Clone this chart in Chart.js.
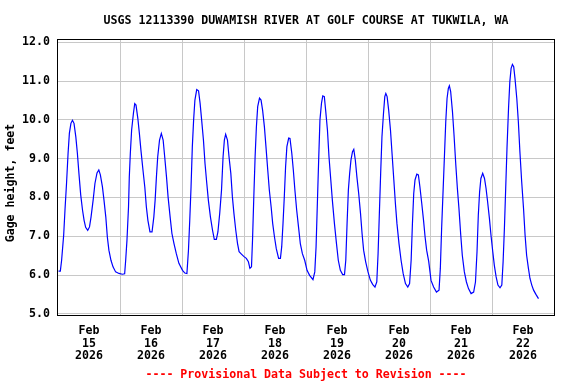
<!DOCTYPE html>
<html><head><meta charset="utf-8">
<script src="https://cdn.jsdelivr.net/npm/chart.js@4"></script>
<style>html,body{margin:0;padding:0;background:#fff}</style>
</head><body>
<canvas id="c" width="576" height="384" style="width:576px;height:384px;display:block"></canvas>
<script>
const titleText = "USGS 12113390 DUWAMISH RIVER AT GOLF COURSE AT TUKWILA, WA";
const footerText = "---- Provisional Data Subject to Revision ----";
const yAxisTitle = "Gage height, feet";
const monthLabel = "Feb";
const yearLabel = "2026";
const dayLabels = ["15","16","17","18","19","20","21","22"];
const yTicks = [5,6,7,8,9,10,11,12];

// hours since 2026-02-15 00:00
const hours = [0.2,0.9,1.4,2.2,2.7,3.3,3.9,4.4,5.0,5.6,6.2,6.9,7.5,8.1,8.8,9.5,10.1,10.7,11.5,12.2,12.8,13.6,14.3,15.1,15.8,16.4,17.2,17.8,18.5,19.1,19.7,20.5,21.3,22.3,23.6,24.9,25.8,26.2,26.7,27.3,27.6,28.0,28.5,29.2,29.7,30.2,30.9,31.5,32.1,32.9,33.6,34.2,34.8,35.6,36.4,37.1,37.6,38.1,38.6,39.3,40.0,40.7,41.3,42.0,42.6,43.4,44.1,44.9,45.8,46.8,48.2,49.1,49.9,50.5,51.0,51.5,52.0,52.5,53.0,53.7,54.4,55.0,55.6,56.3,56.9,57.6,58.2,59.0,59.8,60.5,61.3,61.9,62.6,63.3,63.9,64.4,64.9,65.6,66.2,66.9,67.5,68.1,68.8,69.5,70.1,71.0,71.9,72.9,73.7,74.3,74.9,75.3,75.8,76.3,76.8,77.3,78.0,78.6,79.2,79.9,80.5,81.2,81.8,82.5,83.1,83.8,84.5,85.4,86.1,86.6,87.1,87.6,88.1,88.6,89.3,89.8,90.5,91.1,91.7,92.4,93.1,93.8,94.6,95.5,96.4,97.4,98.7,99.4,99.9,100.4,100.9,101.4,102.0,102.5,103.1,103.6,104.3,104.9,105.6,106.2,107.0,107.8,108.5,109.3,110.2,110.9,111.4,111.9,112.4,112.9,113.4,114.0,114.5,115.1,115.7,116.4,117.1,117.7,118.3,119.1,120.0,120.9,121.8,122.7,123.4,123.9,124.4,124.9,125.4,126.0,126.5,126.9,127.4,128.0,128.7,129.3,130.0,130.6,131.2,132.0,132.8,133.6,134.5,135.4,136.1,136.7,137.2,137.7,138.2,138.9,139.5,140.1,140.8,141.5,142.1,142.7,143.5,144.4,145.4,146.5,147.5,148.0,148.5,149.0,149.6,150.1,150.6,151.1,151.5,152.0,152.7,153.3,154.0,154.6,155.2,155.9,156.5,157.3,158.1,158.9,159.9,160.9,161.6,162.2,162.7,163.2,163.7,164.4,165.1,165.7,166.3,167.0,167.6,168.3,168.9,169.6,170.3,171.1,171.8,172.3,172.8,173.3,173.8,174.4,174.9,175.4,175.9,176.4,176.9,177.6,178.2,178.8,179.5,180.2,180.8,181.4,182.1,182.7,183.4,184.1,185.0,186.0];

const gageHeight = [6.10,6.10,6.38,7.03,7.67,8.36,9.14,9.65,9.91,9.99,9.91,9.56,9.14,8.62,8.06,7.67,7.41,7.23,7.15,7.24,7.50,7.93,8.36,8.63,8.71,8.58,8.27,7.93,7.50,6.98,6.64,6.38,6.21,6.08,6.04,6.02,6.03,6.38,6.90,7.76,8.53,9.14,9.74,10.17,10.42,10.38,10.04,9.65,9.22,8.70,8.27,7.76,7.41,7.11,7.11,7.50,7.93,8.53,9.05,9.48,9.65,9.48,9.05,8.53,8.02,7.50,7.07,6.81,6.55,6.30,6.12,6.05,6.04,6.64,7.41,8.27,9.31,10.00,10.51,10.78,10.75,10.43,10.00,9.48,8.88,8.36,7.93,7.50,7.16,6.92,6.92,7.11,7.59,8.19,9.05,9.48,9.63,9.48,9.05,8.62,8.02,7.59,7.16,6.81,6.60,6.54,6.48,6.43,6.34,6.17,6.21,6.90,8.02,9.05,9.82,10.34,10.56,10.51,10.25,9.82,9.31,8.70,8.19,7.76,7.33,6.98,6.68,6.43,6.43,6.73,7.33,8.02,8.79,9.31,9.53,9.52,9.14,8.70,8.19,7.67,7.24,6.81,6.55,6.38,6.12,5.99,5.88,6.08,6.73,7.85,8.96,10.00,10.43,10.62,10.60,10.25,9.74,9.05,8.45,7.93,7.33,6.81,6.38,6.12,6.01,6.01,6.38,7.33,8.19,8.62,8.96,9.18,9.24,8.96,8.53,8.10,7.59,7.07,6.64,6.34,6.08,5.87,5.76,5.69,5.82,6.55,7.59,8.62,9.56,10.17,10.60,10.68,10.60,10.25,9.74,9.14,8.45,7.85,7.33,6.81,6.38,6.04,5.78,5.69,5.78,6.38,7.33,8.10,8.45,8.60,8.58,8.27,7.85,7.41,6.98,6.64,6.35,5.86,5.69,5.56,5.61,6.17,7.20,8.06,9.09,9.95,10.55,10.81,10.88,10.73,10.21,9.61,8.83,8.23,7.72,7.03,6.51,6.08,5.82,5.65,5.52,5.56,5.82,6.60,7.54,8.14,8.49,8.62,8.49,8.23,7.89,7.46,7.03,6.60,6.25,5.95,5.74,5.67,5.74,6.34,7.20,8.23,9.26,10.30,10.98,11.33,11.43,11.37,11.07,10.55,9.95,9.18,8.40,7.72,7.03,6.51,6.17,5.91,5.74,5.61,5.50,5.39];

const FONT = "'DejaVu Sans Mono', monospace";
const FSIZE = 11.6;

const points = hours.map((h, i) => ({x: h, y: gageHeight[i]}));

const xTickValues = [];
for (let i = 0; i <= dayLabels.length; i++) {
  xTickValues.push(i * 24);
  if (i < dayLabels.length) xTickValues.push(i * 24 + 12);
}

const textPlugin = {
  id: 'texts',
  afterDraw(chart) {
    const ctx = chart.ctx, a = chart.chartArea;
    ctx.save();
    ctx.strokeStyle = '#000';
    ctx.lineWidth = 1;
    ctx.strokeRect(Math.round(a.left) - 0.5, Math.round(a.top) - 0.5, Math.round(a.right - a.left) + 1, Math.round(a.bottom - a.top));
    ctx.font = "bold " + FSIZE + "px " + FONT;
    ctx.textAlign = 'center';
    ctx.textBaseline = 'middle';
    const cx = (a.left + a.right) / 2;
    ctx.fillStyle = '#000';
    ctx.fillText(titleText, cx, 21);
    ctx.fillStyle = '#ff0000';
    ctx.fillText(footerText, cx, 375);
    ctx.fillStyle = '#000';
    ctx.translate(11, 183);
    ctx.rotate(-Math.PI / 2);
    ctx.fillText(yAxisTitle, 0, 0);
    ctx.restore();
  }
};

new Chart(document.getElementById('c'), {
  type: 'line',
  data: { datasets: [{ data: points, borderColor: '#0000ff', borderWidth: 1.2, pointRadius: 0, tension: 0, fill: false }] },
  options: {
    responsive: false,
    devicePixelRatio: 1,
    animation: false,
    layout: { padding: { top: 40, right: 22, left: 0, bottom: 0 } },
    plugins: { legend: { display: false }, tooltip: { enabled: false }, title: { display: false } },
    scales: {
      x: {
        type: 'linear', min: 0, max: 192,
        afterBuildTicks: s => { s.ticks = xTickValues.map(v => ({ value: v })); },
        afterFit: s => { s.height = 68; },
        border: { display: false },
        grid: {
          drawTicks: false, lineWidth: 1,
          color: c => (c.tick && c.tick.value % 24 === 0 && c.tick.value > 0 && c.tick.value < 192) ? '#c8c8c8' : 'rgba(0,0,0,0)'
        },
        ticks: {
          autoSkip: false, maxRotation: 0, minRotation: 0, padding: 8, color: '#000',
          font: { family: FONT, size: FSIZE, weight: 'bold', lineHeight: 1.12 },
          callback: v => (v % 24 === 12) ? [monthLabel, dayLabels[(v - 12) / 24], yearLabel] : ''
        }
      },
      y: {
        type: 'linear', min: 4.943, max: 12.059,
        afterBuildTicks: s => { s.ticks = yTicks.map(v => ({ value: v })); },
        afterFit: s => { s.width = 58; },
        border: { display: false },
        grid: { drawTicks: false, lineWidth: 1, color: '#c8c8c8' },
        ticks: {
          padding: 8, color: '#000',
          font: { family: FONT, size: FSIZE, weight: 'bold' },
          callback: v => Number(v).toFixed(1)
        }
      }
    }
  },
  plugins: [textPlugin]
});
</script>
</body></html>
